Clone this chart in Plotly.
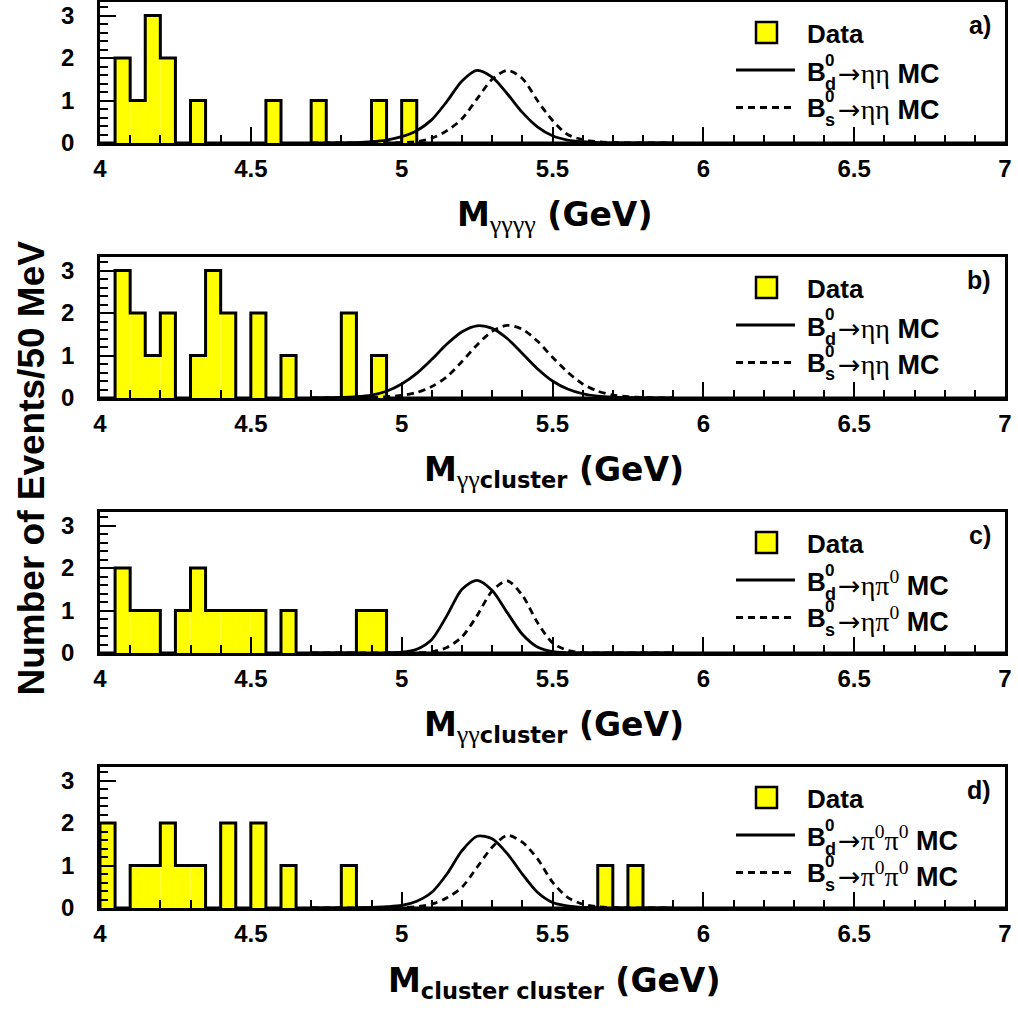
import plotly.graph_objects as go

# ---------------- data ----------------
BIN_W = 0.05
X_RANGE = [4.0, 7.0]
Y_RANGE = [0, 3.32]

# Data histograms: lower bin edges (GeV) and counts per 50 MeV bin
DATA_A_EDGES = [4.05, 4.10, 4.15, 4.20, 4.30, 4.55, 4.70, 4.90, 5.00]
DATA_A_COUNTS = [2, 1, 3, 2, 1, 1, 1, 1, 1]
DATA_B_EDGES = [4.05, 4.10, 4.15, 4.20, 4.30, 4.35, 4.40, 4.50, 4.60, 4.80, 4.90]
DATA_B_COUNTS = [3, 2, 1, 2, 1, 3, 2, 2, 1, 2, 1]
DATA_C_EDGES = [4.05, 4.10, 4.15, 4.25, 4.30, 4.35, 4.40, 4.45, 4.50, 4.60, 4.85, 4.90]
DATA_C_COUNTS = [2, 1, 1, 1, 2, 1, 1, 1, 1, 1, 1, 1]
DATA_D_EDGES = [4.00, 4.10, 4.15, 4.20, 4.25, 4.30, 4.40, 4.50, 4.60, 4.80, 5.65, 5.75]
DATA_D_COUNTS = [2, 1, 1, 2, 1, 1, 2, 2, 1, 1, 1, 1]

# MC shapes
MC_X = [4.70, 4.75, 4.80, 4.85, 4.90, 4.95, 5.00, 5.05, 5.10, 5.15, 5.20, 5.25, 5.30,
        5.35, 5.40, 5.45, 5.50, 5.55, 5.60, 5.65, 5.70, 5.75, 5.80, 5.85, 5.90]
BD_A = [0, 0, 0.003, 0.01, 0.03, 0.07, 0.15, 0.29, 0.55, 0.98, 1.46, 1.71, 1.55,
        1.16, 0.72, 0.38, 0.17, 0.07, 0.03, 0.01, 0.003, 0, 0, 0, 0]
BS_A = [0, 0, 0, 0, 0, 0.003, 0.01, 0.03, 0.11, 0.29, 0.57, 1.04, 1.50,
        1.71, 1.52, 1.00, 0.53, 0.20, 0.08, 0.03, 0.01, 0.003, 0, 0, 0]
BD_B = [0.003, 0.006, 0.012, 0.03, 0.07, 0.16, 0.33, 0.58, 0.91, 1.27, 1.56, 1.70, 1.64,
        1.40, 1.05, 0.69, 0.40, 0.21, 0.10, 0.045, 0.02, 0.01, 0.005, 0.002, 0]
BS_B = [0, 0.001, 0.002, 0.005, 0.01, 0.03, 0.06, 0.13, 0.27, 0.50, 0.86, 1.25, 1.57,
        1.71, 1.62, 1.34, 0.96, 0.61, 0.33, 0.16, 0.07, 0.03, 0.01, 0.004, 0.001]
BD_C = [0, 0, 0, 0, 0, 0.005, 0.02, 0.09, 0.32, 0.88, 1.50, 1.71, 1.47,
        0.95, 0.44, 0.14, 0.03, 0.005, 0, 0, 0, 0, 0, 0, 0]
BS_C = [0, 0, 0, 0, 0, 0, 0, 0.005, 0.03, 0.13, 0.38, 0.88, 1.46,
        1.70, 1.36, 0.72, 0.24, 0.06, 0.01, 0, 0, 0, 0, 0, 0]
BD_D = [0, 0, 0.002, 0.005, 0.015, 0.03, 0.06, 0.16, 0.37, 0.80, 1.35, 1.69, 1.63,
        1.28, 0.80, 0.37, 0.13, 0.05, 0.015, 0.005, 0, 0, 0, 0, 0]
BS_D = [0, 0, 0, 0, 0.002, 0.005, 0.01, 0.03, 0.09, 0.24, 0.49, 0.96, 1.43,
        1.71, 1.55, 1.16, 0.61, 0.25, 0.09, 0.03, 0.01, 0.003, 0, 0, 0]

# x-axis title subscripts: (greek part, latin part)
X_TITLE_SUBS = [("γγγγ", ""), ("γγ", "cluster"), ("γγ", "cluster"), ("", "cluster cluster")]
PANEL_LABELS = ["a)", "b)", "c)", "d)"]
DECAY_PRODUCTS = ["ηη", "ηη", "ηπ<sup>0</sup>", "π<sup>0</sup>π<sup>0</sup>"]
Y_TITLE = "Number of Events/50 MeV"
Y_TICKS = [0, 1, 2, 3]
X_TICK0, X_DTICK = 4.0, 0.5

panels = [
    (DATA_A_EDGES, DATA_A_COUNTS, BD_A, BS_A),
    (DATA_B_EDGES, DATA_B_COUNTS, BD_B, BS_B),
    (DATA_C_EDGES, DATA_C_COUNTS, BD_C, BS_C),
    (DATA_D_EDGES, DATA_D_COUNTS, BD_D, BS_D),
]

# ---------------- layout helpers ----------------
W, H = 1018, 1015
FONT = "Liberation Sans, Arial, Helvetica, sans-serif"
WIDE = "DejaVu Sans, Liberation Sans, sans-serif"
LEFT, RIGHT = 100, 1005


def px(x):
    return x / W


def py(y):
    return 1 - y / H


def title_text(greek, latin):
    sub = ""
    if greek:
        sub += ('<span style="font-family:Liberation Serif;font-weight:normal;'
                'font-size:26px">' + greek + "</span>")
    if latin:
        sub += '<span style="font-size:22.5px">' + latin + "</span>"
    return "<b>M<sub>" + sub + "</sub> (GeV)</b>"


fig = go.Figure()
layout = dict(
    width=W, height=H, autosize=False,
    margin=dict(l=0, r=0, t=0, b=0, autoexpand=False),
    paper_bgcolor="white", plot_bgcolor="white",
    showlegend=False, barmode="overlay",
    font=dict(family=FONT, color="black"),
)
annotations = []
shapes = []

nbins = int(round((X_RANGE[1] - X_RANGE[0]) / BIN_W))
edges_all = [X_RANGE[0] + k * BIN_W for k in range(nbins + 1)]

for i, (edges, counts, bd, bs) in enumerate(panels):
    n = "" if i == 0 else str(i + 1)
    T = 2 + 255 * i
    B = 143 + 255 * i
    xref, yref = "x" + n, "y" + n

    full = [0] * nbins
    for e, c in zip(edges, counts):
        full[int(round((e - X_RANGE[0]) / BIN_W))] = c

    # yellow fill
    fig.add_trace(go.Bar(
        x=[e + BIN_W / 2 for e in edges], y=counts, width=[BIN_W] * len(edges),
        marker=dict(color="#ffff00", line=dict(width=0)),
        xaxis=xref, yaxis=yref, hoverinfo="skip"))
    # step outline
    fig.add_trace(go.Scatter(
        x=[X_RANGE[0]] + edges_all, y=[0] + full + [full[-1]],
        mode="lines", line=dict(color="black", width=3, shape="hv"),
        xaxis=xref, yaxis=yref, hoverinfo="skip"))
    # MC curves
    fig.add_trace(go.Scatter(
        x=MC_X, y=bd, mode="lines",
        line=dict(color="black", width=2.8, shape="spline", smoothing=0.8),
        xaxis=xref, yaxis=yref))
    fig.add_trace(go.Scatter(
        x=MC_X, y=bs, mode="lines",
        line=dict(color="black", width=2.8, shape="spline", smoothing=0.8, dash="7px,5px"),
        xaxis=xref, yaxis=yref))

    layout["xaxis" + n] = dict(
        domain=[px(LEFT), px(RIGHT)], anchor=yref, range=X_RANGE, automargin=False,
        showline=True, linecolor="black", linewidth=2.5, mirror=True,
        showgrid=False, zeroline=False,
        ticks="inside", ticklen=16, tickwidth=1.5, tickcolor="black",
        tick0=X_TICK0, dtick=X_DTICK, ticklabelstandoff=2,
        tickfont=dict(family=FONT, size=24, weight="bold", color="black"),
        minor=dict(dtick=0.1, ticks="inside", ticklen=8, tickwidth=1.5, tickcolor="black"),
    )
    layout["yaxis" + n] = dict(
        domain=[py(B), py(T)], anchor=xref, range=Y_RANGE, automargin=False,
        showline=True, linecolor="black", linewidth=2.5, mirror=True,
        showgrid=False, zeroline=False,
        ticks="inside", ticklen=16, tickwidth=1.5, tickcolor="black",
        tickvals=Y_TICKS, ticklabelstandoff=18,
        tickfont=dict(family=FONT, size=24, weight="bold", color="black"),
        minor=dict(dtick=0.2, ticks="inside", ticklen=8, tickwidth=1.5, tickcolor="black"),
    )

    # x-axis title (centred under the axis)
    greek, latin = X_TITLE_SUBS[i]
    annotations.append(dict(
        xref="paper", yref="paper", x=px(554), y=py(B + 74),
        xanchor="center", yanchor="middle", showarrow=False,
        text=title_text(greek, latin), font=dict(family=WIDE, size=33)))
    # panel label
    annotations.append(dict(
        xref="paper", yref="paper", x=px(993), y=py(T + 23),
        xanchor="right", yanchor="middle", showarrow=False,
        text="<b>" + PANEL_LABELS[i] + "</b>", font=dict(family=FONT, size=25)))

    # legend: Data
    shapes.append(dict(type="rect", xref="paper", yref="paper",
                       x0=px(756), x1=px(777), y0=py(T + 41), y1=py(T + 20),
                       fillcolor="#ffff00", line=dict(color="black", width=2.5)))
    annotations.append(dict(
        xref="paper", yref="paper", x=px(805), y=py(T + 32),
        xanchor="left", yanchor="middle", showarrow=False,
        text="<b>Data</b>", font=dict(family=FONT, size=26)))
    # legend: Bd / Bs lines
    shapes.append(dict(type="line", xref="paper", yref="paper",
                       x0=px(736), x1=px(795), y0=py(T + 68), y1=py(T + 68),
                       line=dict(color="black", width=2.8)))
    shapes.append(dict(type="line", xref="paper", yref="paper",
                       x0=px(736), x1=px(795), y0=py(T + 105.5), y1=py(T + 105.5),
                       line=dict(color="black", width=2.8, dash="7px,5px")))
    for row_y, flav in ((T + 70, "d"), (T + 106, "s")):
        annotations.append(dict(
            xref="paper", yref="paper", x=px(805), y=py(row_y),
            xanchor="left", yanchor="middle", showarrow=False,
            text="<b>B</b>", font=dict(family=FONT, size=26)))
        annotations.append(dict(
            xref="paper", yref="paper", x=px(823), y=py(row_y - 12),
            xanchor="left", yanchor="middle", showarrow=False,
            text="<b>0</b>", font=dict(family=FONT, size=17)))
        annotations.append(dict(
            xref="paper", yref="paper", x=px(823), y=py(row_y + 11.5),
            xanchor="left", yanchor="middle", showarrow=False,
            text="<b>" + flav + "</b>", font=dict(family=FONT, size=18)))
        annotations.append(dict(
            xref="paper", yref="paper", x=px(836), y=py(row_y + 1),
            xanchor="left", yanchor="middle", showarrow=False,
            text=('<span style="font-family:DejaVu Sans">→</span>'
                  '<span style="font-family:Liberation Serif;font-size:28px">' +
                  DECAY_PRODUCTS[i] + "</span> <b>MC</b>"),
            font=dict(family=FONT, size=27)))

# y-axis title
annotations.append(dict(
    xref="paper", yref="paper", x=px(31), y=py(698),
    xanchor="center", yanchor="bottom", showarrow=False, textangle=-90,
    text="<b>" + Y_TITLE + "</b>", font=dict(family=FONT, size=37)))

layout["annotations"] = annotations
layout["shapes"] = shapes
fig.update_layout(**layout)
fig.write_html(
    "out.html",
    config={"displayModeBar": False},
    post_script="document.body.style.margin='0px';document.body.style.overflow='hidden';",
)
